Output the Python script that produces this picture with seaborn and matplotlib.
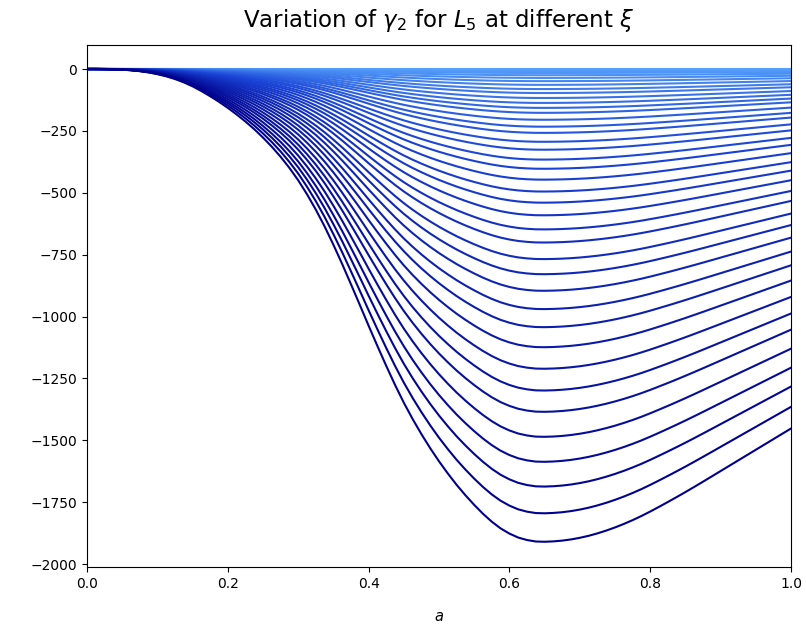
import numpy as np
import pandas as pd
import matplotlib
matplotlib.use("Agg")
import matplotlib.pyplot as plt
import seaborn as sns
from matplotlib.colors import LinearSegmentedColormap

# Sample grid in a (step 0.0125)
a_values = np.linspace(0.0, 1.0, 81)

# gamma_2 along the deepest curve (largest xi)
gamma2_deepest = [
    0.0, 0.0, -0.3, -1.1, -2.6, -5.1, -8.8, -13.9, -20.8, -29.5,
    -40.5, -53.9, -70.0, -89.0, -110.0, -132.5, -157.0, -183.5, -212.0, -243.0,
    -277.0, -314.0, -354.5, -399.5, -449.5, -506.0, -568.0, -636.0, -710.0, -788.0,
    -870.0, -953.0, -1037.0, -1119.0, -1199.0, -1276.0, -1348.0, -1414.0, -1475.0, -1532.0,
    -1585.0, -1634.0, -1680.0, -1722.0, -1761.0, -1797.0, -1829.0, -1856.0, -1877.0, -1893.0,
    -1903.0, -1909.0, -1910.0, -1908.5, -1905.4, -1900.6, -1894.1, -1886.0, -1876.2, -1864.9,
    -1852.2, -1838.1, -1822.7, -1806.0, -1787.9, -1768.9, -1749.5, -1729.6, -1709.3, -1688.5,
    -1667.3, -1645.9, -1624.4, -1602.9, -1581.4, -1559.9, -1538.4, -1516.9, -1495.4, -1473.9,
    -1452.4,
]

# Depth of the minimum of each curve, from smallest xi to largest
curve_minima = [0, 1, 4, 9, 16, 25, 36, 49, 64, 81,
                97, 117, 137, 157, 177, 205, 233, 258, 294, 326,
                366, 403, 447, 495, 540, 591, 648, 701, 768, 829,
                896, 970, 1043, 1124, 1211, 1299, 1385, 1486, 1587, 1687,
                1795, 1910]

profile = np.array(gamma2_deepest) / -min(gamma2_deepest)

rows = []
for k, depth in enumerate(curve_minima):
    for a, p in zip(a_values, profile):
        rows.append({"a": a, "gamma2": p * depth, "curve": k})
df = pd.DataFrame(rows)

cmap = LinearSegmentedColormap.from_list("xi_blues", ["#5aa8ff", "#1a44d6", "#00008b"])
n = len(curve_minima)
palette = [cmap(k / (n - 1)) for k in range(n)]

fig = plt.figure(figsize=(8.06, 6.26), dpi=100)
ax = fig.add_axes([87 / 806, 59 / 626, 704 / 806, 522 / 626])

sns.lineplot(data=df, x="a", y="gamma2", hue="curve", palette=palette,
             legend=False, linewidth=1.5, ax=ax, estimator=None, sort=False)

ax.set_xlim(0, 1)
ax.set_ylim(-2012, 97)
ax.set_yticks([0, -250, -500, -750, -1000, -1250, -1500, -1750, -2000])
ax.tick_params(labelsize=10)
ax.set_xlabel("$a$", fontsize=10.5, labelpad=13)
ax.set_ylabel("")
ax.set_title(r"Variation of $\gamma_2$ for $L_5$ at different $\xi$", fontsize=16.5, pad=13)

fig.savefig("out.png", dpi=100)
